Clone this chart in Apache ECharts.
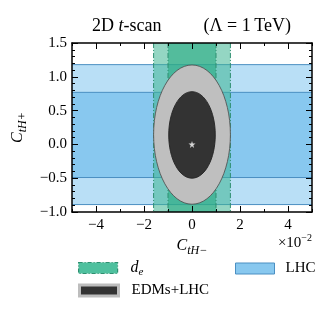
<!DOCTYPE html>
<html><head><meta charset="utf-8">
<script src="https://cdn.jsdelivr.net/npm/echarts@6/dist/echarts.min.js"></script>
<style>html,body{margin:0;padding:0;background:#fff}#c{width:328px;height:311px}</style>
</head><body><div id="c"></div>
<script>
// ---- data ----
const xMajorTicks = [-4, -2, 0, 2, 4];
const lhcBands = [[-0.89, 1.18], [-0.49, 0.77]];          // C_tH+ ranges: 2σ, 1σ
const deBands = [[-1.6, 1.6], [-1.0, 1.0]];               // C_tH- ranges (×10^-2): 2σ, 1σ
const edmEllipses = [[0, 0.145, 1.6, 1.03], [0, 0.14, 0.97, 0.64]]; // cx, cy, rx, ry
const bestFit = [[0, 0]];

const F = 'Liberation Serif';
const lhcFill = ['#b9dff6', '#88c8ef'], lhcEdge = '#4b8fc2';
const deFill = ['rgba(60,180,145,0.55)', 'rgba(40,170,130,0.6)'], deEdge = '#2e8f70';
const edmFill = ['#bfbfbf', '#333333'];
const minus = v => (v < 0 ? '\u2212' + Math.abs(v) : '' + v);
const yFmt = v => { const s = Math.abs(v).toFixed(1); return v < 0 ? '\u2212' + s : s; };

const chart = echarts.init(document.getElementById('c'), null, {renderer: 'canvas'});

const nameRich = {
  c: {fontFamily: F, fontStyle: 'italic', fontSize: 16, lineHeight: 22, color: '#000'},
  s: {fontFamily: F, fontStyle: 'italic', fontSize: 12, lineHeight: 13, verticalAlign: 'bottom', color: '#000'}
};
const axisLine = {show: true, onZero: false, lineStyle: {color: '#000', width: 1.5}};
function xAx(pos, major, labels) {
  return {
    type: 'value', min: -5, max: 5, interval: 1, position: pos, gridIndex: 0, z: 10,
    axisLine: major ? {show: false, onZero: false} : axisLine,
    axisTick: major ? {show: true, inside: true, length: 6, customValues: xMajorTicks, lineStyle: {color: '#000', width: 1}}
                    : {show: true, inside: true, length: 3, lineStyle: {color: '#000', width: 1}},
    axisLabel: labels ? {show: true, customValues: xMajorTicks, formatter: minus, fontFamily: F, fontSize: 15, color: '#000', margin: 6} : {show: false},
    splitLine: {show: false},
    name: labels ? '{c|C}{s|tH\u2212}' : '',
    nameLocation: 'middle', nameGap: 22,
    nameTextStyle: {rich: nameRich}
  };
}
function yAx(pos, labels) {
  return {
    type: 'value', min: -1, max: 1.5, interval: 0.5, position: pos, gridIndex: 0, z: 10,
    axisLine: axisLine,
    axisTick: {show: true, inside: true, length: 6, lineStyle: {color: '#000', width: 1}},
    minorTick: {show: true, splitNumber: 5, length: 3, lineStyle: {color: '#000', width: 1}},
    axisLabel: labels ? {show: true, formatter: yFmt, fontFamily: F, fontSize: 15, color: '#000', margin: 5} : {show: false},
    splitLine: {show: false}, minorSplitLine: {show: false},
    name: labels ? '{c|C}{s|tH+}' : '',
    nameLocation: 'middle', nameGap: 37, nameRotate: 90,
    nameTextStyle: {rich: nameRich}
  };
}

const option = {
  animation: false,
  backgroundColor: '#fff',
  title: {
    text: '{n|2D }{i|t}{n|-scan}{g|}{n|(\u039b = 1\u2009TeV)}',
    left: 92, top: 17, padding: 0,
    textStyle: {fontWeight: 'normal', rich: {
      n: {fontFamily: F, fontSize: 18, fontWeight: 'normal', color: '#000'},
      i: {fontFamily: F, fontSize: 18, fontWeight: 'normal', fontStyle: 'italic', color: '#000'},
      g: {width: 42}
    }}
  },
  grid: {left: 72, right: 16, top: 43, bottom: 99},
  xAxis: [xAx('bottom', false, true), xAx('bottom', true, false), xAx('top', false, false), xAx('top', true, false)],
  yAxis: [yAx('left', true), yAx('right', false)],
  graphic: [{
    type: 'text', right: 16, top: 233,
    style: {text: '{n|\u00d710}{p|\u22122}', rich: {
      n: {fontFamily: F, fontSize: 15, lineHeight: 20, fill: '#000'},
      p: {fontFamily: F, fontSize: 10, lineHeight: 11, verticalAlign: 'top', fill: '#000'}
    }}
  }],
  legend: [
    {data: [{name: 'd_e', icon: 'rect', itemStyle: {color: '#4fc09e', borderColor: deEdge, borderWidth: 1.2, borderType: [4, 2, 1, 2]}}],
     left: 78, top: 260, itemWidth: 39, itemHeight: 11, padding: 0, selectedMode: false,
     formatter: () => '{i|d}{s|e}',
     textStyle: {padding: [0, 0, 0, 8], rich: {
       i: {fontFamily: F, fontStyle: 'italic', fontSize: 16, lineHeight: 20, color: '#000'},
       s: {fontFamily: F, fontStyle: 'italic', fontSize: 11, lineHeight: 11, verticalAlign: 'bottom', color: '#000'}
     }}},
    {data: [{name: 'EDMs+LHC', icon: 'rect', itemStyle: {color: '#333333', borderColor: '#bdbdbd', borderWidth: 3}}],
     left: 78, top: 283, itemWidth: 39, itemHeight: 11, padding: 0, selectedMode: false,
     textStyle: {fontFamily: F, fontSize: 15, color: '#000', padding: [0, 0, 0, 8]}},
    {data: [{name: 'LHC', icon: 'rect', itemStyle: {color: lhcFill[1], borderColor: lhcEdge, borderWidth: 1}}],
     left: 235, top: 261, itemWidth: 39, itemHeight: 11, padding: 0, selectedMode: false,
     textStyle: {fontFamily: F, fontSize: 15, color: '#000', padding: [0, 0, 0, 6]}}
  ],
  series: [
    {
      name: 'LHC', type: 'custom', xAxisIndex: 0, yAxisIndex: 0, z: 1,
      data: lhcBands,
      encode: {y: [0, 1]},
      renderItem: (params, api) => {
        const cs = params.coordSys;
        const yl = api.coord([0, api.value(0)])[1], yh = api.coord([0, api.value(1)])[1];
        const i = params.dataIndex;
        const ln = y => ({type: 'line', shape: {x1: cs.x, y1: y, x2: cs.x + cs.width, y2: y}, style: {stroke: lhcEdge, lineWidth: 1}});
        return {type: 'group', children: [
          {type: 'rect', shape: {x: cs.x, y: yh, width: cs.width, height: yl - yh}, style: {fill: lhcFill[i]}},
          ln(yh), ln(yl)
        ]};
      }
    },
    {
      name: 'd_e', type: 'custom', xAxisIndex: 0, yAxisIndex: 0, z: 2,
      data: deBands,
      encode: {x: [0, 1]},
      renderItem: (params, api) => {
        const cs = params.coordSys;
        const xl = api.coord([api.value(0), 0])[0], xh = api.coord([api.value(1), 0])[0];
        const i = params.dataIndex;
        const ln = x => ({type: 'line', shape: {x1: x, y1: cs.y, x2: x, y2: cs.y + cs.height}, style: {stroke: deEdge, lineWidth: 1, lineDash: [5, 2, 1, 2]}});
        return {type: 'group', children: [
          {type: 'rect', shape: {x: xl, y: cs.y, width: xh - xl, height: cs.height}, style: {fill: deFill[i]}},
          ln(xl), ln(xh)
        ]};
      }
    },
    {
      name: 'EDMs+LHC', type: 'custom', xAxisIndex: 0, yAxisIndex: 0, z: 3,
      data: edmEllipses,
      encode: {x: 0, y: 1},
      renderItem: (params, api) => {
        const c = api.coord([api.value(0), api.value(1)]);
        const s = api.size([api.value(2), api.value(3)]);
        const i = params.dataIndex;
        return {type: 'ellipse', shape: {cx: c[0], cy: c[1], rx: s[0], ry: s[1]},
                style: {fill: edmFill[i], stroke: i === 0 ? '#555' : '#222', lineWidth: 0.9}};
      }
    },
    {
      type: 'scatter', xAxisIndex: 0, yAxisIndex: 0, z: 20, data: bestFit,
      symbol: 'path://M50,0 L61,35 L98,35 L68,57 L79,91 L50,70 L21,91 L32,57 L2,35 L39,35 Z',
      symbolSize: 7, itemStyle: {color: '#fff'}, silent: true
    }
  ]
};
chart.setOption(option);
</script>
</body></html>
